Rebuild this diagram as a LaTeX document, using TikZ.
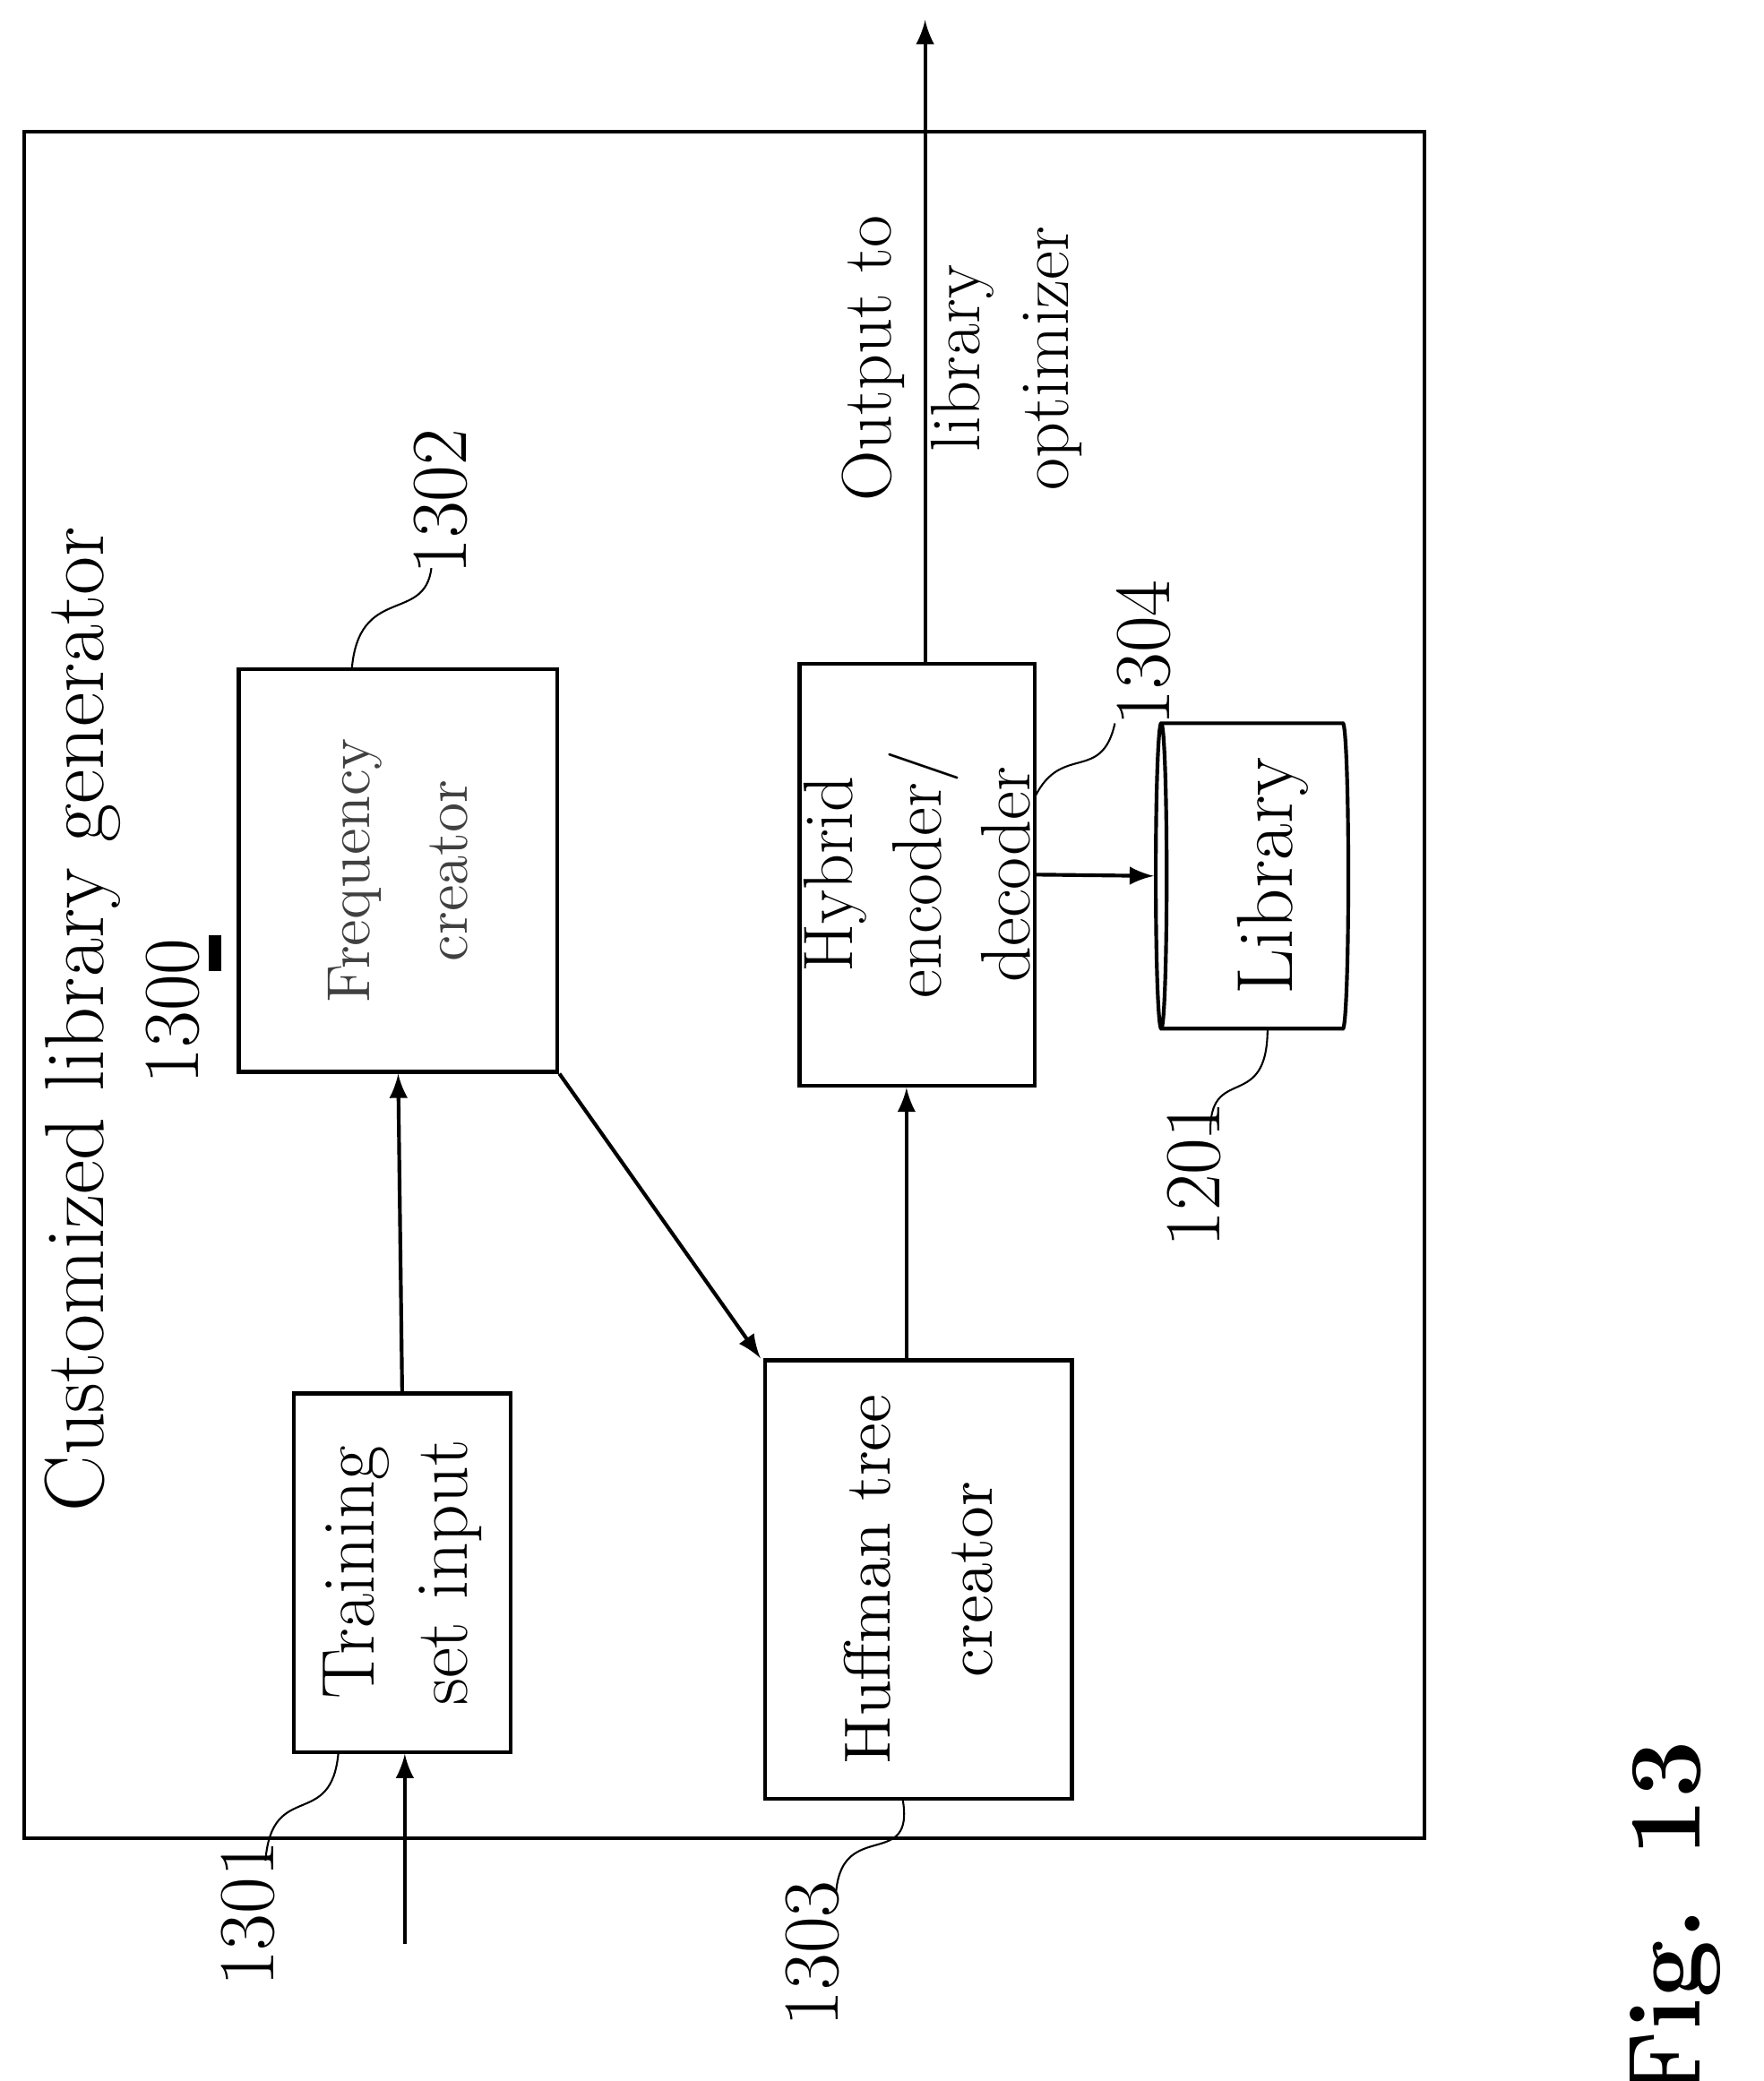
\documentclass[tikz,border=0pt]{standalone}
\usetikzlibrary{shapes, shapes.geometric, arrows}
\begin{document}
\begin{tikzpicture}[x=0.01cm, y=-0.01cm, >=latex]
        \tikzstyle{box} = [rectangle, draw=black, thick, align=center, inner sep=0pt]
        \tikzstyle{vtext} = [rotate=90, align=center, font=\fontsize{15}{19}\selectfont]
        \tikzstyle{refnum} = [rotate=90, font=\fontsize{17}{19}\selectfont]
        \tikzstyle{flow} = [thick, ->, >=latex]
        \tikzstyle{wave} = [thin]

        \useasboundingbox (0,0) rectangle (1329,1568);
        \draw[thick] (18,99) rectangle (1073,1385);

        \node (title) [vtext, font=\fontsize{18}{21}\selectfont] at (62,768) {Customized library generator};
        \node (n1300) [refnum] at (130,762) {1300};
        \draw[line width=2.5pt] (162,705) -- (162,732);

        \node (freq) [box, minimum width=2.40cm, minimum height=3.03cm] at (300,656) {};
        \node [vtext, font=\fontsize{13}{21}\selectfont, text=black!75] at (freq) {Frequency\\creator};
        \node (train) [box, minimum width=1.63cm, minimum height=2.70cm] at (303,1185) {};
        \node [vtext, font=\fontsize{16}{20}\selectfont] at (train) {Training\\set input};
        \node (huff) [box, minimum width=2.31cm, minimum height=3.30cm] at (692,1190) {};
        \node [vtext, font=\fontsize{14}{22}\selectfont] at (huff) {Huffman tree\\creator};
        \node (hyb) [box, minimum width=1.77cm, minimum height=3.18cm] at (691,659) {};
        \node [vtext] at (hyb) {Hybrid\\encoder/\\decoder};
        \node (lib) [cylinder, shape border rotate=180, draw=black, thick, minimum width=2.30cm, minimum height=1.45cm, aspect=0.35] at (947,660) {};
        \node [vtext, font=\fontsize{17}{20}\selectfont] at ([xshift=0.12cm]lib.center) {Library};

        \node (out) [vtext] at (725,270) {Output to\\library\\optimizer};
        \coordinate (top) at (697,15);
        \coordinate (in) at (305,1465);

        \draw[flow] (train.north) -- (freq.south);
        \draw[flow] (in) -- (train.south -| in);
        \draw[flow] (freq.south east) -- ([xshift=-0.02cm]huff.north west);
        \draw[flow] (huff.north) ++(-9,0) coordinate (hb) -- (hb |- hyb.south);
        \draw[flow] (hyb.east) -- (lib.west);
        \draw[flow] (hyb.north) ++(6,0) coordinate (ht) -- (top);

        \node (n1302) [refnum] at (332,378) {1302};
        \node (n1301) [refnum] at (187,1442) {1301};
        \node (n1303) [refnum] at (612,1472) {1303};
        \node (n1304) [refnum] at (862,492) {1304};
        \node (n1201) [refnum] at (900,885) {1201};

        \coordinate (w1302) at (265,505);
        \coordinate (w1301) at (255,1320);
        \coordinate (w1303) at (680,1355);
        \coordinate (w1304) at (780,600);
        \coordinate (w1201) at (955,775);
        \draw[wave] (w1302) .. controls (270,440) and (320,470) .. (325,428);
        \draw[wave] (w1301) .. controls (250,1380) and (205,1340) .. (200,1402);
        \draw[wave] (w1303) .. controls (690,1410) and (635,1370) .. (630,1425);
        \draw[wave] (w1304) .. controls (800,560) and (830,590) .. (840,545);
        \draw[wave] (w1201) .. controls (955,840) and (910,800) .. (912,855);

        \node (fig) [rotate=90, font=\bfseries\fontsize{22}{24}\selectfont] at (1262,1448) {Fig. 13};
\end{tikzpicture}
\end{document}
